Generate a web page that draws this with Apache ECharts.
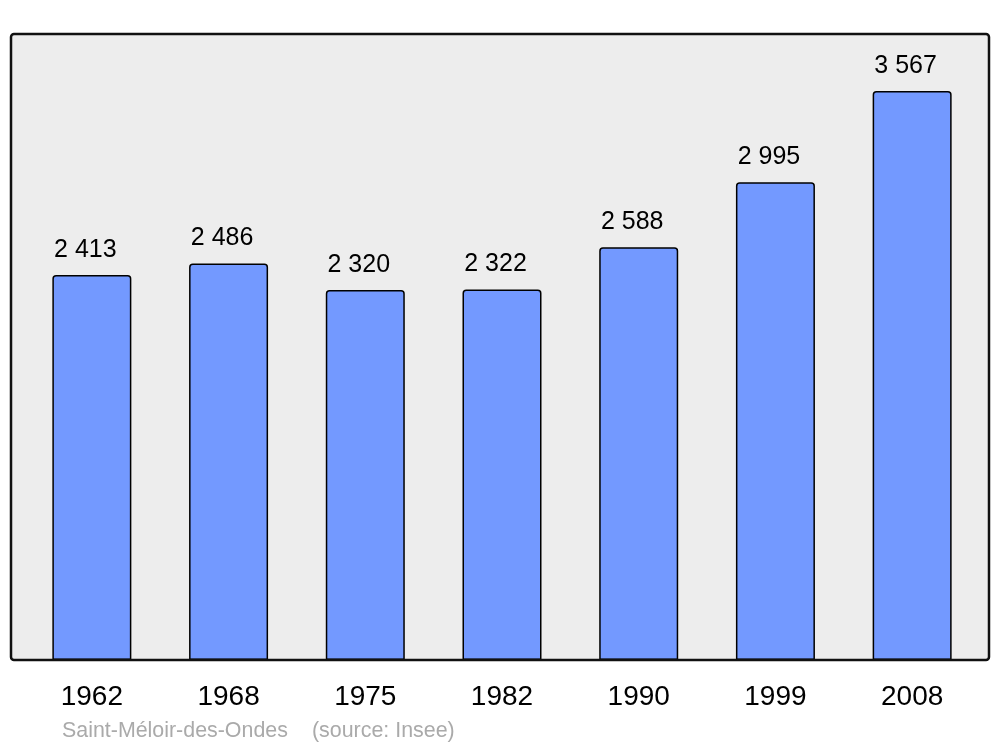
<!DOCTYPE html>
<html>
<head>
<meta charset="utf-8">
<script src="https://cdn.jsdelivr.net/npm/echarts@6/dist/echarts.min.js"></script>
<style>html,body{margin:0;padding:0;background:#fff}#c{width:1000px;height:747px}</style>
</head>
<body>
<div id="c"></div>
<script>
const years = ['1962','1968','1975','1982','1990','1999','2008'];
const population = [2413, 2486, 2320, 2322, 2588, 2995, 3567];
const placeName = 'Saint-Méloir-des-Ondes';
const sourceText = '(source: Insee)';

const fmt = v => String(v).replace(/\B(?=(\d{3})+(?!\d))/g, ' ');

const chart = echarts.init(document.getElementById('c'), null, {renderer: 'canvas'});
chart.setOption({
  animation: false,
  textStyle: {fontFamily: 'Liberation Sans, Arial, sans-serif'},
  grid: {left: 23.5, right: 19.5, top: 34, bottom: 87},
  graphic: [
    {type: 'rect', z: -10, shape: {x: 11, y: 34, width: 978, height: 626, r: 3},
     style: {fill: '#ededed', stroke: null}},
    {type: 'rect', z: 100, shape: {x: 11, y: 34, width: 978, height: 626, r: 3},
     style: {fill: null, stroke: '#111', lineWidth: 2.5}},
    {type: 'text', left: 62, top: 721, z: 100,
     style: {text: placeName, fill: '#aaaaaa', font: '21.4px "Liberation Sans", Arial, sans-serif'}},
    {type: 'text', left: 312, top: 721, z: 100,
     style: {text: sourceText, fill: '#aaaaaa', font: '21.4px "Liberation Sans", Arial, sans-serif'}}
  ],
  xAxis: {
    type: 'category', data: years,
    axisLine: {show: false}, axisTick: {show: false},
    axisLabel: {color: '#000', fontSize: 28, margin: 23.5, fontFamily: 'Liberation Sans'}
  },
  yAxis: {
    type: 'value', min: 0, max: 3924,
    show: false, splitLine: {show: false}
  },
  series: [{
    type: 'bar', data: population, barWidth: 79,
    itemStyle: {color: '#7399ff', borderColor: '#000', borderWidth: 1.5, borderRadius: [3,3,0,0]},
    label: {show: true, position: 'top', distance: 12.5, offset: [-6.5, 0], color: '#000', fontSize: 25,
            fontFamily: 'Liberation Sans', formatter: p => fmt(p.value)}
  }]
});
</script>
</body>
</html>
